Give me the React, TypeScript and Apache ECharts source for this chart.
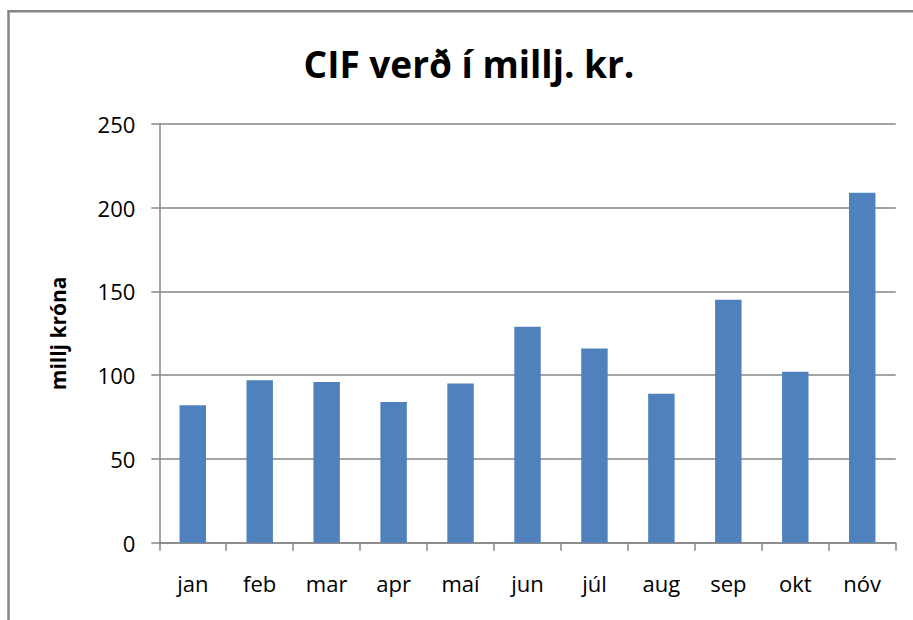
import React, { useEffect, useRef } from "react";
import * as echarts from "echarts";

const months = ["jan", "feb", "mar", "apr", "maí", "jun", "júl", "aug", "sep", "okt", "nóv"];
const cifValues = [82, 97, 96, 84, 95, 129, 116, 89, 145, 102, 209];
const yTicks = { min: 0, max: 250, interval: 50 };

const FONT = "'Open Sans', 'Noto Sans', sans-serif";
const GRAY = "#868686";

export default function App() {
  const ref = useRef<HTMLDivElement>(null);
  useEffect(() => {
    document.body.style.margin = "0";
    const chart = echarts.init(ref.current!, null, { renderer: "svg" });
    chart.setOption({
      animation: false,
      backgroundColor: "#ffffff",
      title: {
        text: "CIF verð í millj. kr.",
        left: 464,
        top: 40,
        textAlign: "center",
        textStyle: { fontFamily: FONT, fontWeight: "bold", fontSize: 37, color: "#000" },
      },
      graphic: [
        {
          type: "rect",
          shape: { x: 8.5, y: 11.3, width: 1000, height: 800 },
          style: { fill: "none", stroke: GRAY, lineWidth: 2.5 },
          silent: true,
        },
      ],
      grid: { left: 159.3, right: 17.3, top: 124, bottom: 77.3, containLabel: false },
      xAxis: {
        type: "category",
        data: months,
        axisLine: { lineStyle: { color: GRAY, width: 1.5 } },
        axisTick: { show: true, length: 8, alignWithLabel: false, lineStyle: { color: GRAY, width: 1.5 } },
        axisLabel: { fontFamily: FONT, fontSize: 22, color: "#000", margin: 29 },
      },
      yAxis: {
        type: "value",
        min: yTicks.min,
        max: yTicks.max,
        interval: yTicks.interval,
        name: "millj króna",
        nameLocation: "middle",
        nameRotate: 90,
        nameGap: 91,
        nameTextStyle: { fontFamily: FONT, fontWeight: "bold", fontSize: 21, color: "#000" },
        axisLine: { show: true, lineStyle: { color: GRAY, width: 1.5 } },
        axisTick: { show: true, length: 8, lineStyle: { color: GRAY, width: 1.5 } },
        axisLabel: { fontFamily: FONT, fontSize: 22, color: "#000", margin: 24 },
        splitLine: { show: true, lineStyle: { color: GRAY, width: 1.5 } },
      },
      series: [
        {
          type: "bar",
          data: cifValues,
          barWidth: "39.5%",
          itemStyle: { color: "#4F81BD" },
        },
      ],
    });
    return () => chart.dispose();
  }, []);
  return <div ref={ref} style={{ position: "fixed", left: 0, top: 0, width: 913, height: 620 }} />;
}
